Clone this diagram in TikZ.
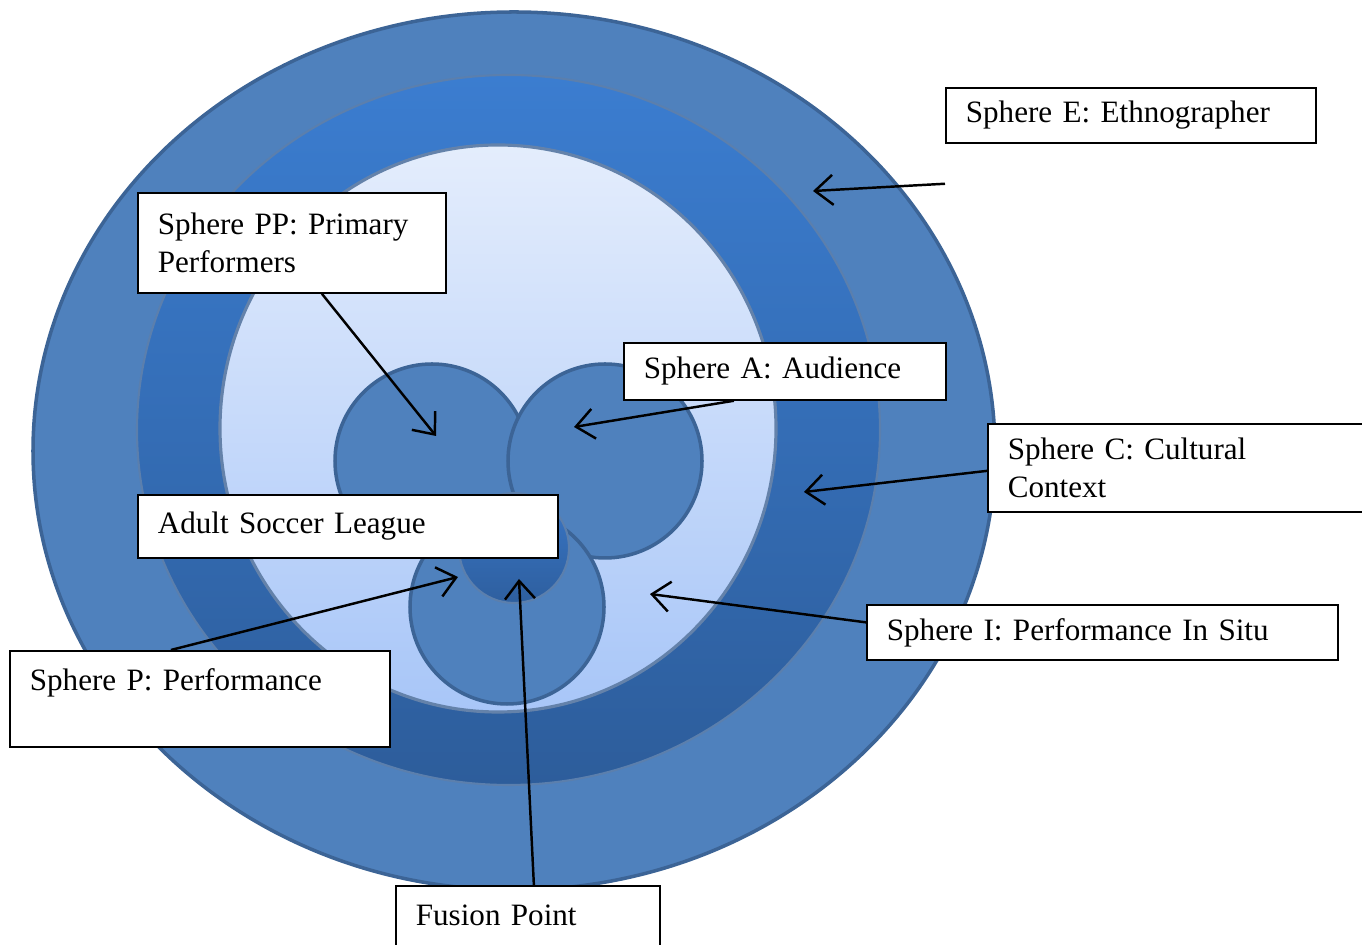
\documentclass[tikz,border=0pt]{standalone}
\usepackage{fontspec}
\setmainfont{Liberation Serif}
\usetikzlibrary{arrows.meta}

\definecolor{ringblue}{HTML}{4F81BD}
\definecolor{ringedge}{HTML}{3C6496}
\definecolor{midtop}{HTML}{3B7DD0}
\definecolor{midbot}{HTML}{2D5D9B}
\definecolor{midedge}{HTML}{5B7FAD}
\definecolor{coretop}{HTML}{E4EDFC}
\definecolor{corebot}{HTML}{A8C6F8}
\definecolor{coreedge}{HTML}{6482AA}
\definecolor{fusetop}{HTML}{3976C6}
\definecolor{fusebot}{HTML}{2E5F9F}

\tikzset{
  callout/.style={draw=black, fill=white, line width=0.5pt, anchor=north west,
    align=left, inner xsep=2mm, inner ysep=0pt,
    font=\fontsize{8.85}{10.8}\selectfont},
  sphere/.style={fill=ringblue, draw=ringedge, line width=1pt},
  pointer/.style={-{Straight Barb[length=1.8mm,width=3mm]}, line width=0.7pt},
}

\begin{document}
\begin{tikzpicture}
\useasboundingbox (0,0) rectangle (13.62,-9.45);
% Nested rings: ethnographer, cultural context, performance in situ
\fill[ringblue, draw=ringedge, line width=1pt] (5.14,-4.51) ellipse [x radius=4.81cm, y radius=4.39cm];
\shade[top color=midtop, bottom color=midbot, draw=midedge, line width=0.6pt]
  (5.085,-4.30) ellipse [x radius=3.715cm, y radius=3.55cm];
\shade[top color=coretop, bottom color=corebot, draw=coreedge, line width=0.9pt]
  (4.98,-4.285) ellipse [x radius=2.78cm, y radius=2.835cm];
% Performers, audience, performance
\draw[sphere] (4.32,-4.61) circle (0.97);
\draw[sphere] (6.05,-4.61) circle (0.97);
\draw[sphere] (5.07,-6.07) circle (0.97);
% Fusion point
\shade[top color=fusetop, bottom color=fusebot, draw=midedge, line width=0.6pt]
  (5.14,-5.48) circle (0.55);

% Labels
\node[callout, text width=3.30cm, minimum height=0.55cm] (e) at (9.45,-0.87) {Sphere E: Ethnographer};
\node[callout, text width=2.68cm, minimum height=1.00cm] (pp) at (1.37,-1.92) {Sphere PP: Primary\\Performers};
\node[callout, text width=2.82cm, minimum height=0.57cm] (a) at (6.23,-3.42) {Sphere A: Audience};
\node[callout, text width=3.43cm, minimum height=0.88cm] (c) at (9.87,-4.23) {Sphere C: Cultural\\Context};
\node[callout, text width=3.80cm, minimum height=0.63cm] (asl) at (1.37,-4.94) {Adult Soccer League};
\node[callout, text width=4.31cm, minimum height=0.55cm] (i) at (8.66,-6.04) {Sphere I: Performance In Situ};
\node[callout, text width=3.40cm, minimum height=0.96cm] (p) at (0.09,-6.50) {Sphere P: Performance\\\mbox{}};
\node[callout, text width=2.24cm, minimum height=0.96cm] (fp) at (3.95,-8.85) {Fusion Point\\\mbox{}};

% Arrow targets
\coordinate (inE) at (8.13,-1.91);
\coordinate (inPP) at (4.36,-4.36);
\coordinate (inA) at (5.74,-4.27);
\coordinate (inC) at (8.04,-4.92);
\coordinate (inI) at (6.50,-5.94);
\coordinate (inP) at (4.58,-5.77);
\coordinate (inF) at (5.19,-5.79);

% Pointers
\draw[pointer] ([yshift=-4mm]e.south west) -- (inE);
\draw[pointer] ([xshift=3mm]pp.south) -- (inPP);
\draw[pointer] ([xshift=-5.1mm]a.south) -- (inA);
\draw[pointer] ([yshift=-0.3mm]c.west) -- (inC);
\draw[pointer] ([yshift=1mm]i.west) -- (inI);
\draw[pointer] ([xshift=-2.9mm]p.north) -- (inP);
\draw[pointer] ([xshift=0.6mm]fp.north) -- (inF);
\end{tikzpicture}
\end{document}
